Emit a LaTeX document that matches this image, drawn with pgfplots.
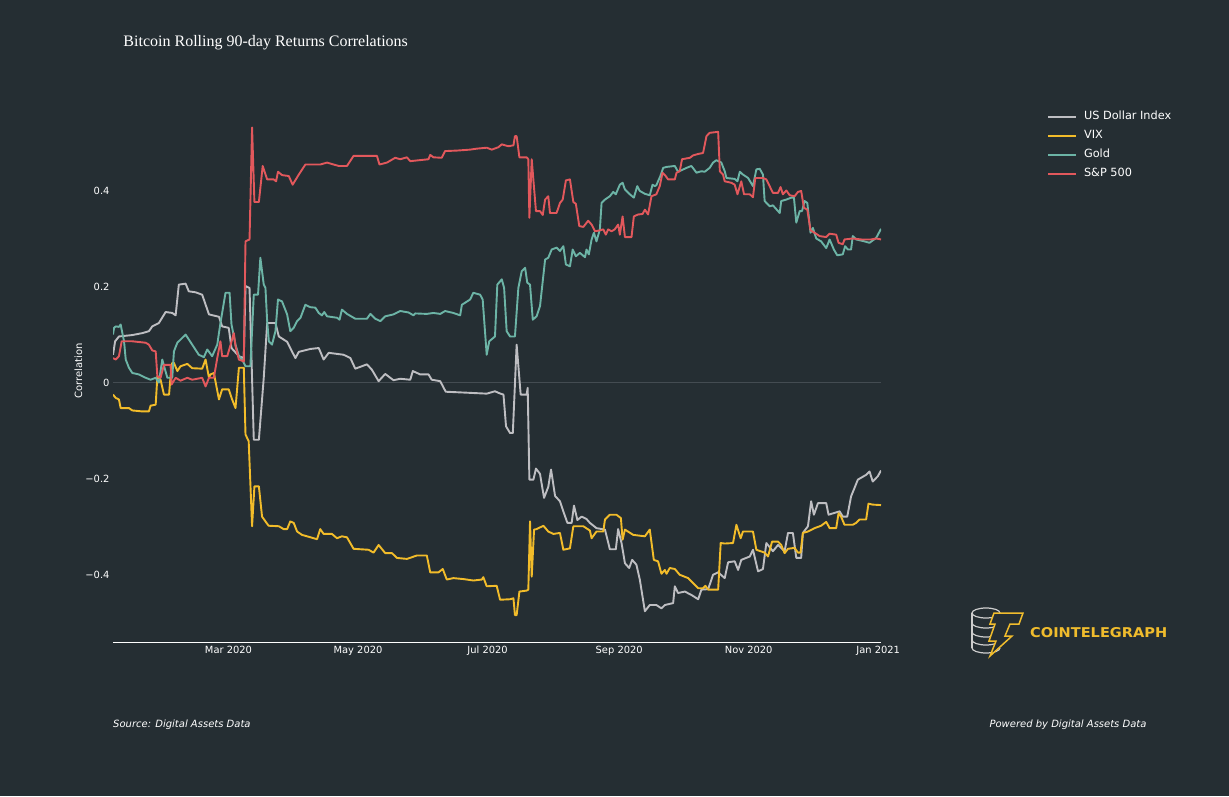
\documentclass[border=0pt]{standalone}
\usepackage{fontspec}
\setmainfont{DejaVu Sans}
\newfontfamily\titlefont{Liberation Serif}
\usepackage{graphicx}
\usepackage{pgfplots}
\pgfplotsset{compat=1.18}
\definecolor{bg}{RGB}{37,46,51}
\definecolor{usd}{RGB}{190,190,194}
\definecolor{vix}{RGB}{242,188,42}
\definecolor{gold}{RGB}{108,180,166}
\definecolor{spx}{RGB}{226,88,92}
\definecolor{zerocol}{RGB}{68,76,82}
\definecolor{coingray}{RGB}{205,205,205}
\definecolor{logoyellow}{RGB}{240,188,45}
\begin{document}
\begin{tikzpicture}[x=1pt,y=1pt]
\fill[bg] (0,0) rectangle (1229,796);
\begin{axis}[
  at={(113pt,154pt)}, anchor=south west,
  scale only axis, width=768pt, height=526pt,
  xmin=5.6, xmax=367.3, ymin=-0.54, ymax=0.555,
  axis x line*=bottom, axis y line*=left,
  y axis line style={draw=none},
  x axis line style={draw=white, line width=1pt},
  major tick length=0pt, tick style={draw=none},
  /pgf/number format/assume math mode=true,
  xtick={60,121,182,244,305,366},
  xticklabels={Mar 2020,May 2020,Jul 2020,Sep 2020,Nov 2020,Jan 2021},
  ytick={-0.4,-0.2,0,0.2,0.4},
  yticklabels={−0.4,−0.2,0,0.2,0.4},
  ticklabel style={font=\fontsize{9.9}{12}\selectfont, text=white},
  xticklabel style={text height=7.6pt, text depth=2pt},
  extra y ticks={0}, extra y tick labels={},
  extra y tick style={grid=major, major grid style={draw=zerocol, line width=1pt}},
  ylabel={Correlation},
  ylabel style={at={(axis description cs:-0.0449,0.516)}, anchor=center, font=\fontsize{10}{12}\selectfont, text=white},
  title={Bitcoin Rolling 90-day Returns Correlations},
  title style={at={(axis description cs:0.0134,1.1207)}, anchor=base west, font=\titlefont\fontsize{16}{19}\selectfont, text=white, inner sep=0pt},
  legend cell align=left,
  legend image code/.code={\draw[#1] (0pt,0pt) -- (28pt,0pt);},
  legend style={at={(axis description cs:1.2161,1.0086)}, anchor=north west, draw=none, fill=none, text=white,
    font=\fontsize{11.3}{13}\selectfont, inner sep=0pt, row sep=8pt,
    nodes={inner sep=0pt, text height=8pt, text depth=3pt},
    /tikz/every odd column/.append style={column sep=7pt}},
  every axis plot/.append style={line width=1.9pt, line join=round},
]
\addplot[usd] coordinates {(5.6,0.058)(6.6,0.086)(8.4,0.096)(14.7,0.099)(19.4,0.103)(22.5,0.107)(24.1,0.117)(27.2,0.124)(30.4,0.147)(33.5,0.145)(35.1,0.140)(36.6,0.204)(39.8,0.206)(41.3,0.190)(44.5,0.188)(47.6,0.183)(50.8,0.142)(55.5,0.137)(57.0,0.117)(60.1,0.114)(61.4,0.072)(64.9,0.055)(67.2,0.051)(68.0,0.201)(69.9,0.197)(71.9,-0.119)(74.3,-0.119)(76.6,0.010)(78.2,0.124)(82.1,0.124)(83.7,0.096)(87.6,0.085)(91.5,0.051)(93.1,0.064)(98.5,0.070)(102.5,0.072)(104.8,0.048)(107.2,0.062)(114.2,0.058)(117.4,0.051)(119.7,0.029)(125.2,0.038)(127.5,0.027)(130.7,0.003)(133.8,0.018)(137.7,0.005)(140.9,0.008)(145.6,0.006)(146.8,0.024)(150.3,0.017)(154.2,0.017)(155.7,0.006)(159.7,0.003)(162.3,-0.019)(172.2,-0.021)(181.6,-0.023)(185.5,-0.018)(187.5,-0.022)(189.5,-0.025)(190.7,-0.091)(192.6,-0.105)(193.9,-0.105)(195.7,0.079)(197.6,-0.025)(200.4,-0.025)(200.9,-0.011)(201.7,-0.202)(203.6,-0.202)(204.8,-0.179)(206.7,-0.190)(208.6,-0.240)(210.6,-0.217)(211.9,-0.181)(213.8,-0.236)(216.1,-0.247)(218.0,-0.272)(219.6,-0.292)(221.6,-0.292)(222.7,-0.256)(224.3,-0.286)(226.3,-0.279)(228.6,-0.284)(230.2,-0.292)(233.3,-0.303)(237.3,-0.306)(239.6,-0.347)(242.4,-0.347)(243.5,-0.305)(245.1,-0.334)(246.7,-0.376)(248.7,-0.386)(250.1,-0.369)(252.1,-0.379)(253.7,-0.410)(256.1,-0.476)(258.4,-0.463)(261.5,-0.463)(263.9,-0.470)(265.5,-0.463)(269.4,-0.459)(270.2,-0.424)(271.7,-0.438)(274.9,-0.435)(278.0,-0.442)(281.2,-0.451)(282.7,-0.431)(285.9,-0.430)(288.2,-0.400)(290.6,-0.395)(293.7,-0.407)(295.3,-0.374)(298.4,-0.372)(300.0,-0.390)(301.5,-0.369)(305.5,-0.362)(307.0,-0.348)(309.4,-0.393)(311.7,-0.388)(313.3,-0.334)(316.4,-0.351)(318.8,-0.338)(321.9,-0.351)(323.5,-0.313)(325.8,-0.313)(327.4,-0.365)(329.7,-0.365)(330.5,-0.313)(332.9,-0.299)(334.4,-0.247)(335.7,-0.275)(337.6,-0.251)(341.5,-0.251)(342.6,-0.275)(347.8,-0.268)(349.3,-0.279)(351.4,-0.279)(353.2,-0.237)(356.4,-0.202)(360.3,-0.192)(361.9,-0.185)(363.4,-0.206)(365.8,-0.195)(367.3,-0.183)};
\addlegendentry{US Dollar Index}
\addplot[vix] coordinates {(5.6,-0.025)(6.9,-0.032)(8.4,-0.035)(9.2,-0.053)(13.1,-0.053)(14.7,-0.058)(19.4,-0.060)(22.5,-0.060)(23.3,-0.048)(25.7,-0.046)(26.5,0.013)(28.0,0.006)(29.6,-0.025)(32.0,-0.025)(32.7,0.013)(33.5,0.041)(34.3,0.041)(35.9,0.024)(37.4,0.034)(40.6,0.039)(42.9,0.030)(47.6,0.029)(49.2,0.048)(50.8,0.010)(51.5,0.017)(53.1,0.020)(55.5,-0.035)(57.0,-0.014)(60.1,-0.014)(61.7,-0.035)(63.3,-0.053)(64.9,0.031)(67.2,0.031)(68.0,-0.108)(69.5,-0.122)(71.1,-0.299)(72.2,-0.216)(74.3,-0.216)(75.8,-0.279)(77.4,-0.289)(78.9,-0.298)(83.7,-0.299)(86.0,-0.305)(87.6,-0.305)(89.1,-0.289)(90.7,-0.292)(92.3,-0.310)(94.6,-0.317)(97.0,-0.320)(101.7,-0.326)(103.2,-0.305)(104.8,-0.315)(108.7,-0.315)(111.1,-0.324)(113.4,-0.320)(115.8,-0.322)(118.9,-0.346)(126.0,-0.348)(128.3,-0.354)(130.7,-0.338)(133.8,-0.355)(137.0,-0.355)(139.3,-0.365)(144.0,-0.367)(148.7,-0.360)(153.4,-0.360)(155.0,-0.395)(158.9,-0.395)(160.9,-0.388)(162.8,-0.410)(165.9,-0.407)(170.6,-0.409)(175.3,-0.412)(179.3,-0.410)(180.0,-0.405)(181.6,-0.424)(186.3,-0.423)(187.9,-0.452)(192.6,-0.451)(194.2,-0.449)(194.9,-0.484)(195.7,-0.484)(197.0,-0.435)(200.4,-0.433)(201.2,-0.431)(202.0,-0.289)(202.8,-0.404)(203.9,-0.306)(205.1,-0.305)(208.3,-0.298)(210.6,-0.310)(213.0,-0.315)(216.1,-0.313)(217.7,-0.348)(220.8,-0.345)(222.4,-0.299)(227.1,-0.299)(230.2,-0.308)(231.0,-0.324)(233.3,-0.310)(236.5,-0.310)(237.3,-0.285)(239.6,-0.275)(242.7,-0.275)(244.8,-0.282)(245.6,-0.327)(246.7,-0.306)(250.6,-0.317)(256.1,-0.320)(258.4,-0.306)(260.3,-0.369)(262.3,-0.372)(263.9,-0.398)(265.5,-0.390)(266.3,-0.398)(267.8,-0.386)(270.2,-0.388)(272.5,-0.400)(276.5,-0.407)(281.2,-0.428)(283.5,-0.428)(284.6,-0.423)(285.9,-0.431)(290.6,-0.431)(291.8,-0.334)(293.7,-0.335)(297.6,-0.334)(299.2,-0.296)(301.2,-0.324)(302.3,-0.310)(307.0,-0.310)(308.6,-0.348)(312.5,-0.354)(314.1,-0.362)(316.0,-0.331)(318.8,-0.331)(320.3,-0.338)(321.9,-0.355)(323.5,-0.346)(326.6,-0.344)(328.2,-0.354)(329.4,-0.354)(330.5,-0.313)(332.9,-0.310)(336.0,-0.303)(339.1,-0.298)(341.5,-0.290)(343.1,-0.303)(346.2,-0.303)(347.3,-0.272)(348.5,-0.279)(350.1,-0.296)(354.0,-0.296)(355.6,-0.292)(357.2,-0.285)(360.3,-0.285)(361.4,-0.252)(363.4,-0.254)(367.3,-0.255)};
\addlegendentry{VIX}
\addplot[gold] coordinates {(5.6,0.100)(6.1,0.114)(6.9,0.117)(8.4,0.116)(9.2,0.121)(10.8,0.086)(11.6,0.048)(13.1,0.031)(14.7,0.020)(17.8,0.017)(21.0,0.010)(23.3,0.006)(25.7,0.010)(27.2,0.000)(28.8,0.048)(31.2,0.010)(33.5,0.010)(34.3,0.065)(35.9,0.083)(39.8,0.100)(42.9,0.079)(46.0,0.058)(48.4,0.053)(50.0,0.069)(52.3,0.055)(54.7,0.079)(56.2,0.124)(58.6,0.187)(60.5,0.187)(61.4,0.121)(63.3,0.079)(64.9,0.055)(66.4,0.048)(68.0,0.034)(70.3,0.034)(71.9,0.183)(73.9,0.183)(75.0,0.260)(76.6,0.204)(77.4,0.197)(78.2,0.128)(79.0,0.086)(80.5,0.079)(82.1,0.107)(83.3,0.173)(85.2,0.169)(87.6,0.142)(89.1,0.107)(90.7,0.114)(92.3,0.128)(93.9,0.135)(96.2,0.162)(98.5,0.157)(100.9,0.156)(102.5,0.145)(104.0,0.140)(105.1,0.147)(106.4,0.138)(111.1,0.135)(112.3,0.131)(113.4,0.152)(115.8,0.143)(119.7,0.133)(125.2,0.133)(126.8,0.143)(129.1,0.133)(131.5,0.128)(133.8,0.138)(137.7,0.142)(140.9,0.149)(144.8,0.146)(147.1,0.140)(147.9,0.144)(153.4,0.143)(156.5,0.145)(159.7,0.143)(162.0,0.149)(165.9,0.145)(169.1,0.140)(169.9,0.162)(173.8,0.173)(175.3,0.187)(178.5,0.183)(179.7,0.173)(181.6,0.058)(182.8,0.086)(185.5,0.096)(186.6,0.204)(188.7,0.215)(189.8,0.197)(191.0,0.107)(192.6,0.096)(194.9,0.096)(196.5,0.197)(198.1,0.232)(199.7,0.239)(200.7,0.208)(202.0,0.204)(203.3,0.131)(205.1,0.138)(206.7,0.159)(209.1,0.256)(210.6,0.260)(212.2,0.277)(214.5,0.281)(216.1,0.274)(217.7,0.284)(218.9,0.246)(220.8,0.242)(222.1,0.277)(223.6,0.263)(225.5,0.270)(227.9,0.261)(228.6,0.277)(229.7,0.267)(231.0,0.298)(232.1,0.312)(233.3,0.294)(234.9,0.319)(235.7,0.374)(237.3,0.381)(239.6,0.388)(241.2,0.397)(242.4,0.392)(244.3,0.412)(245.6,0.416)(246.7,0.402)(249.0,0.392)(250.9,0.385)(252.5,0.409)(253.7,0.399)(256.1,0.393)(258.4,0.390)(259.7,0.412)(260.8,0.409)(261.5,0.411)(263.4,0.430)(264.7,0.447)(266.3,0.449)(270.2,0.451)(271.7,0.439)(273.3,0.442)(275.7,0.447)(278.0,0.451)(280.4,0.437)(282.7,0.440)(284.3,0.439)(286.6,0.447)(288.2,0.458)(289.8,0.463)(292.1,0.458)(293.7,0.440)(294.5,0.426)(298.4,0.424)(299.7,0.419)(300.8,0.439)(302.3,0.433)(304.7,0.426)(307.0,0.409)(308.6,0.444)(310.2,0.445)(311.7,0.433)(312.5,0.378)(314.9,0.367)(316.4,0.369)(319.6,0.353)(320.3,0.378)(322.7,0.381)(325.0,0.385)(326.3,0.385)(327.4,0.333)(329.0,0.357)(330.1,0.357)(331.3,0.378)(332.6,0.374)(334.1,0.312)(335.2,0.322)(336.8,0.300)(339.1,0.294)(341.5,0.280)(343.1,0.298)(345.1,0.277)(346.7,0.265)(349.3,0.267)(350.4,0.284)(351.7,0.277)(353.2,0.277)(354.0,0.305)(355.6,0.298)(359.5,0.294)(361.9,0.291)(363.4,0.296)(365.0,0.301)(367.3,0.320)};
\addlegendentry{Gold}
\addplot[spx] coordinates {(5.6,0.051)(6.9,0.048)(8.4,0.055)(9.7,0.086)(14.7,0.086)(21.0,0.083)(22.5,0.079)(24.1,0.067)(25.7,0.065)(26.5,0.013)(28.0,0.010)(29.6,0.037)(32.7,0.037)(33.2,-0.004)(35.1,0.010)(37.4,0.004)(40.6,0.010)(42.9,0.006)(47.6,0.010)(49.2,-0.008)(50.8,0.010)(53.1,0.010)(54.7,0.051)(56.2,0.086)(57.0,0.055)(59.4,0.055)(61.0,0.079)(62.5,0.103)(63.3,0.076)(64.9,0.048)(67.2,0.044)(68.0,0.294)(69.9,0.298)(71.1,0.531)(72.2,0.376)(74.3,0.376)(76.1,0.451)(78.2,0.423)(81.3,0.423)(82.4,0.419)(83.3,0.439)(85.2,0.432)(88.4,0.430)(90.2,0.412)(93.1,0.433)(96.2,0.454)(103.2,0.454)(106.4,0.458)(109.5,0.454)(111.9,0.451)(115.8,0.451)(118.9,0.472)(129.9,0.472)(131.1,0.454)(134.6,0.458)(138.5,0.468)(140.9,0.465)(144.0,0.469)(145.6,0.461)(154.2,0.465)(155.0,0.474)(156.5,0.469)(160.4,0.468)(162.0,0.482)(167.5,0.483)(173.8,0.485)(176.9,0.487)(181.6,0.489)(184.0,0.485)(187.1,0.490)(188.7,0.496)(191.8,0.492)(194.2,0.494)(194.9,0.513)(195.7,0.513)(197.0,0.469)(200.4,0.469)(201.2,0.465)(201.7,0.343)(202.8,0.465)(203.9,0.405)(204.8,0.357)(206.7,0.357)(208.0,0.349)(209.1,0.381)(210.6,0.388)(211.4,0.353)(214.5,0.353)(216.1,0.374)(217.4,0.381)(218.9,0.421)(220.8,0.423)(222.4,0.376)(223.6,0.372)(225.2,0.326)(227.1,0.324)(229.4,0.337)(231.0,0.329)(232.6,0.315)(234.9,0.317)(236.5,0.319)(237.7,0.308)(238.8,0.319)(240.4,0.315)(241.9,0.319)(243.5,0.329)(244.3,0.308)(245.6,0.346)(246.7,0.303)(249.8,0.303)(250.9,0.346)(252.9,0.350)(255.0,0.351)(256.1,0.360)(257.6,0.350)(259.2,0.388)(261.5,0.392)(263.1,0.409)(264.4,0.437)(265.9,0.430)(267.0,0.423)(270.2,0.423)(271.0,0.437)(272.5,0.440)(273.6,0.465)(277.3,0.468)(278.8,0.473)(281.2,0.476)(283.5,0.478)(285.1,0.513)(286.6,0.520)(290.6,0.522)(291.4,0.440)(292.9,0.433)(293.7,0.419)(296.8,0.416)(298.4,0.412)(299.7,0.392)(301.5,0.419)(302.8,0.392)(305.5,0.392)(307.0,0.386)(308.1,0.426)(311.7,0.426)(313.3,0.423)(316.4,0.395)(318.8,0.395)(320.0,0.407)(321.1,0.392)(322.7,0.400)(324.3,0.390)(326.6,0.388)(328.2,0.397)(329.7,0.399)(331.0,0.364)(332.6,0.360)(334.1,0.317)(336.0,0.312)(338.4,0.305)(341.5,0.303)(343.1,0.310)(346.2,0.308)(347.3,0.291)(349.3,0.288)(350.1,0.298)(354.0,0.300)(358.0,0.298)(362.6,0.298)(365.0,0.300)(367.3,0.298)};
\addlegendentry{S\&P 500}
\end{axis}
% footers
\node[anchor=base west, inner sep=0pt, text=white, font=\fontsize{10}{12}\selectfont\itshape] at (113,69) {Source: Digital Assets Data};
\node[anchor=base east, inner sep=0pt, text=white, font=\fontsize{10}{12}\selectfont\itshape] at (1146.7,69) {Powered by Digital Assets Data};
% logo
\begin{scope}[coingray, line width=1.2pt]
  \draw (986,183) ellipse [x radius=14, y radius=5];
  \draw (972,183) -- (972,148);
  \draw (972,173) arc[start angle=180, end angle=360, x radius=14, y radius=5];
  \draw (972,164) arc[start angle=180, end angle=360, x radius=14, y radius=5];
  \draw (972,156) arc[start angle=180, end angle=360, x radius=14, y radius=5];
  \draw (972,148) arc[start angle=180, end angle=360, x radius=14, y radius=5];
\end{scope}
\draw[logoyellow, line width=1.5pt, line join=miter, fill=bg] (994,183) -- (1023,183) -- (1019,172) -- (1010,172) -- (1005,160) -- (1012,160) -- (990,140) -- (996,155) -- (989,155) -- (995,172) -- (990,172) -- cycle;
\node[anchor=south west, inner sep=0pt, text=logoyellow] at (1030,158.3) {\resizebox{137pt}{10pt}{\bfseries COINTELEGRAPH}};
\end{tikzpicture}
\end{document}
